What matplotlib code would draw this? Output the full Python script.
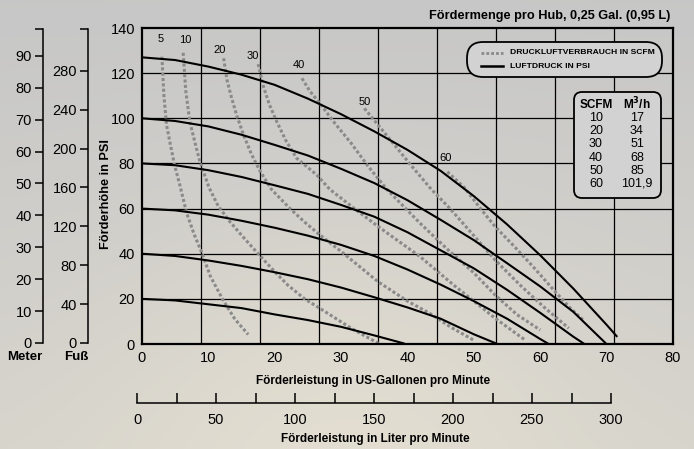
import numpy as np
import matplotlib
matplotlib.use('Agg')
import matplotlib.pyplot as plt
from matplotlib.patches import FancyBboxPatch

plt.rcParams['font.family'] = ['Liberation Sans', 'DejaVu Sans']

# Luftdruck-Kurven (psi) : x = US-Gallonen/min, y = PSI
luft_127_x = [0, 5, 10, 15, 20, 25, 30, 35, 40, 45, 50, 55, 60, 65, 70, 71.5]
luft_127_y = [127, 125.8, 122.9, 119.3, 114.8, 108.7, 101.8, 94.2, 86, 76.7, 65.5, 53, 39.3, 24.5, 8.5, 3.5]
luft_100_x = [0, 5, 10, 15, 20, 25, 30, 35, 40, 45, 50, 55, 60, 65, 69.8]
luft_100_y = [100, 98.8, 96.4, 92.7, 88.2, 83.5, 77.6, 71.3, 63.7, 55, 46, 35.8, 25.5, 14.2, 0.5]
luft_80_x = [0, 5, 10, 15, 20, 25, 30, 35, 40, 45, 50, 55, 60, 65, 66.5]
luft_80_y = [80, 79.2, 77, 74, 70.3, 66.5, 61.6, 56.4, 49.5, 41.5, 33.5, 24, 13.8, 3.2, 0.3]
luft_60_x = [0, 5, 10, 15, 20, 25, 30, 35, 40, 45, 50, 55, 60, 61.1]
luft_60_y = [60, 59.2, 57.3, 54.6, 51.5, 48, 43.9, 39, 33, 26.3, 19, 11.2, 2.2, 0.3]
luft_40_x = [0, 5, 10, 15, 20, 25, 30, 35, 40, 45, 50, 53.3]
luft_40_y = [40, 39, 37, 34.6, 31.8, 28.7, 25, 20.7, 16.2, 11.2, 4.3, 0.3]
luft_20_x = [0, 5, 10, 15, 20, 25, 30, 35, 39.4]
luft_20_y = [20, 19.3, 17.6, 15.9, 13.1, 10.6, 7.6, 3.8, 0.3]

# Druckluftverbrauch (SCFM)
scfm_5_x = [3.0, 3.3, 3.7, 4.3, 4.9, 5.7, 6.7, 7.8, 9.0, 10.3, 12.3, 14.0, 16.0]
scfm_5_y = [127.3, 110, 97, 88, 79.3, 70.4, 58.3, 49, 40.5, 30, 19, 11, 4.2]
scfm_10_x = [6.2, 6.6, 7.2, 8.0, 8.7, 10.1, 11.5, 13.3, 15.5, 17.5, 20, 22, 24.5, 27.5, 31.5, 35.6]
scfm_10_y = [129, 112, 98.5, 89, 81, 69.3, 61, 54, 46.5, 40, 32, 26, 20, 14.5, 7, 0.3]
scfm_20_x = [12.3, 12.8, 13.5, 14.3, 15.3, 16.5, 17.8, 19.5, 22.3, 24.5, 26.8, 30, 35.6, 40, 43.4, 46.5, 49.9]
scfm_20_y = [126.6, 117, 109, 101, 92.6, 84, 76.5, 68.5, 60, 54, 48.3, 41, 27.5, 19, 13.5, 7.5, 1.8]
scfm_30_x = [17.5, 18.3, 19.2, 20.3, 21.7, 23.3, 26.3, 28.3, 32, 35.6, 41.9, 47, 50, 53.2, 57.7]
scfm_30_y = [124, 114, 106, 98.5, 90, 82.3, 75, 68.5, 60, 52, 38.7, 26, 19, 11.4, 1.8]
scfm_40_x = [24.1, 25.3, 26.8, 29, 31.5, 34, 36.9, 41.9, 46, 50, 53.2, 56.5, 60]
scfm_40_y = [117.7, 112, 106.6, 98, 89, 79, 68.5, 53.5, 42, 31.5, 21.7, 13, 6.2]
scfm_50_x = [33.5, 36, 38.5, 41, 43.6, 46.4, 50, 53.2, 57, 60.5, 64.3]
scfm_50_y = [104.4, 95.5, 86.5, 77.5, 68.5, 60, 48, 37.2, 26, 16.5, 7]
scfm_60_x = [46, 48.5, 51, 53.2, 56, 59, 62, 64.5, 66.5]
scfm_60_y = [76.3, 69.5, 60, 52, 43.5, 34, 24, 16, 10.5]

scfm_names = ['5', '10', '20', '30', '40', '50', '60']
scfm_label_x = [2.8, 6.5, 11.7, 16.7, 23.7, 33.6, 45.8]
scfm_label_y = [135.1, 134.6, 130.4, 127.6, 123.6, 107.4, 82.3]

tab_scfm = ['10', '20', '30', '40', '50', '60']
tab_m3h = ['17', '34', '51', '68', '85', '101,9']

x_ticks = list(range(0, 81, 10))
y_ticks = list(range(0, 141, 20))
meter_ticks = list(range(0, 91, 10))
fuss_ticks = list(range(0, 281, 40))
liter_ticks = list(range(0, 301, 50))
liter_minor = list(range(25, 300, 50))

W, H = 694, 449
fig = plt.figure(figsize=(W / 100, H / 100), dpi=100)

# hintergrund verlauf
bg = fig.add_axes([0, 0, 1, 1], zorder=-10)
yy, xx = np.mgrid[0:1:200j, 0:1:300j]
glow = np.exp(-((xx - 0.5) ** 2 / 0.12 + (yy - 0.95) ** 2 / 0.25))
top = np.array([0.78, 0.78, 0.78])
bot = np.array([0.84, 0.83, 0.80])
img = top[None, None, :] * (1 - yy[..., None]) + bot[None, None, :] * yy[..., None]
img = img + glow[..., None] * np.array([0.05, 0.04, 0.02])
bg.imshow(np.clip(img, 0, 1), aspect='auto', extent=[0, 1, 0, 1])
bg.axis('off')

def fx(px):
    return px / W

def fy(py):
    return 1 - py / H

ax = fig.add_axes([fx(142), fy(344), 531 / W, 316 / H])
ax.patch.set_alpha(0)
ax.set_xlim(0, 80)
ax.set_ylim(0, 140)
for k in range(1, 9):
    ax.axvline(k * 80 / 9, color='black', lw=0.9, zorder=1)
for v in y_ticks[1:-1]:
    ax.axhline(v, color='black', lw=0.9, zorder=1)
for s in ax.spines.values():
    s.set_linewidth(1.6)
ax.set_xticks(x_ticks)
ax.set_yticks(y_ticks)
ax.tick_params(length=0, labelsize=10.5, pad=5)

dash = (0, (1.0, 0.75))
gray = '#8a8a8a'
for xs, ys in [(scfm_5_x, scfm_5_y), (scfm_10_x, scfm_10_y), (scfm_20_x, scfm_20_y),
               (scfm_30_x, scfm_30_y), (scfm_40_x, scfm_40_y), (scfm_50_x, scfm_50_y),
               (scfm_60_x, scfm_60_y)]:
    ax.plot(xs, ys, color=gray, lw=2.2, ls=dash, zorder=2)
for xs, ys in [(luft_127_x, luft_127_y), (luft_100_x, luft_100_y), (luft_80_x, luft_80_y),
               (luft_60_x, luft_60_y), (luft_40_x, luft_40_y), (luft_20_x, luft_20_y)]:
    ax.plot(xs, ys, color='black', lw=1.5, zorder=3)
for n, lx, ly in zip(scfm_names, scfm_label_x, scfm_label_y):
    ax.text(lx, ly, n, fontsize=8, ha='center', va='center', zorder=4)

ax.set_xlabel('Förderleistung in US-Gallonen pro Minute', fontweight='bold', fontsize=8.5)
ax.xaxis.set_label_coords(0.435, -0.098)
ax.set_ylabel('Förderhöhe in PSI', fontweight='bold', fontsize=9.2)
ax.yaxis.set_label_coords(-0.057, 0.475)

# Meter / Fuß achsen
for px, lim, ticks in [(43, 140 * 0.70307, meter_ticks), (88, 140 * 2.3067, fuss_ticks)]:
    a = fig.add_axes([fx(px), fy(343), 0.0001, 314 / H])
    a.patch.set_alpha(0)
    for side in ['top', 'right', 'bottom']:
        a.spines[side].set_visible(False)
    a.spines['left'].set_linewidth(1.1)
    a.set_xticks([])
    a.set_ylim(0, lim)
    a.set_yticks(ticks)
    a.set_yticks([lim], minor=True)
    a.tick_params(axis='y', which='both', direction='out', length=6, width=1.1, pad=2, labelsize=10.5)
fig.text(fx(25), fy(357), 'Meter', fontweight='bold', fontsize=9.5, ha='center', va='center')
fig.text(fx(76), fy(357), 'Fuß', fontweight='bold', fontsize=9.5, ha='center', va='center')

# Liter achse
al = fig.add_axes([fx(137), fy(403), 474 / W, 0.0001])
al.patch.set_alpha(0)
for side in ['top', 'right', 'left']:
    al.spines[side].set_visible(False)
al.spines['bottom'].set_linewidth(1.1)
al.set_yticks([])
al.set_xlim(0, 300)
al.set_xticks(liter_ticks)
al.set_xticks(liter_minor, minor=True)
al.tick_params(axis='x', which='both', direction='in', length=7, width=1.1, pad=7, labelsize=10.5)
fig.text(fx(375), fy(439), 'Förderleistung in Liter pro Minute', fontweight='bold',
         fontsize=8.5, ha='center', va='center')

fig.text(fx(670), fy(16), 'Fördermenge pro Hub, 0,25 Gal. (0,95 L)', fontweight='bold',
         fontsize=9.2, ha='right', va='center')

# legende + tabelle in pixel-koordinaten
ov = fig.add_axes([0, 0, 1, 1], zorder=5)
ov.set_xlim(0, W)
ov.set_ylim(H, 0)
ov.axis('off')
ov.patch.set_alpha(0)
leg = FancyBboxPatch((467, 42), 195, 35, boxstyle='round,pad=0,rounding_size=16',
                     fc='#d2d2d2', ec='black', lw=1.3)
ov.add_patch(leg)
ov.plot([481, 503], [53, 53], color=gray, lw=2.0, ls=dash)
ov.plot([481, 503], [66, 66], color='black', lw=1.8)
ov.text(510, 53, 'DRUCKLUFTVERBRAUCH IN SCFM', fontsize=6.1, fontweight='bold', va='center')
ov.text(510, 66, 'LUFTDRUCK IN PSI', fontsize=6.1, fontweight='bold', va='center')

tab = FancyBboxPatch((574, 92), 87, 106, boxstyle='round,pad=0,rounding_size=8',
                     fc='#d2d2d2', ec='black', lw=1.3)
ov.add_patch(tab)
ov.text(596, 105, 'SCFM', fontsize=8.5, fontweight='bold', ha='center', va='center')
ov.text(637, 104, 'M$^\\mathbf{3}$/h', fontsize=8.5, fontweight='bold', ha='center', va='center')
row_y = [118, 131, 144, 158, 171, 184]
for s, m, ry in zip(tab_scfm, tab_m3h, row_y):
    ov.text(596, ry, s, fontsize=9, ha='center', va='center')
    ov.text(637, ry, m, fontsize=9, ha='center', va='center')

fig.savefig('out.png', dpi=100)
